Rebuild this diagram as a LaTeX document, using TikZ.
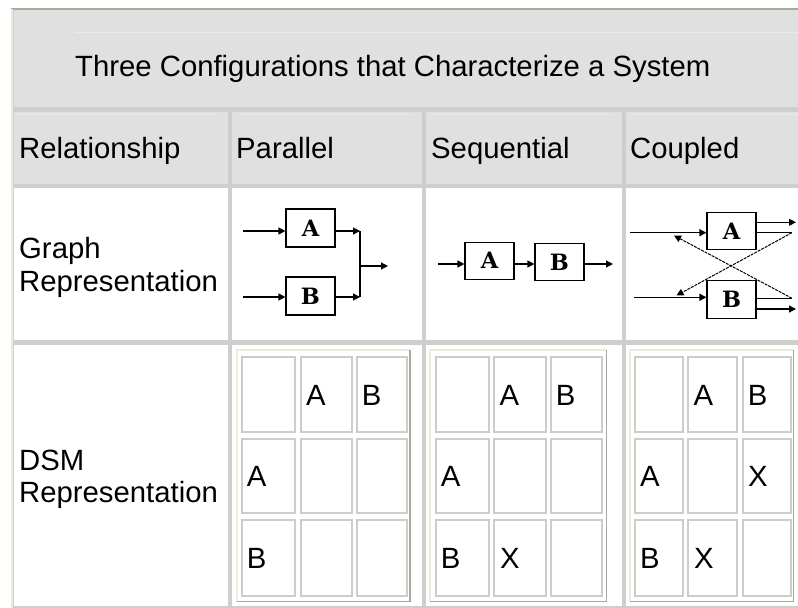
\documentclass[tikz,border=0pt]{standalone}
\usepackage{fontspec}
\newfontfamily\arial{Liberation Sans}
\newfontfamily\gfont{DejaVu Serif}
\usetikzlibrary{arrows.meta}
\definecolor{gapgray}{RGB}{206,206,206}
\definecolor{hdrgray}{RGB}{224,224,224}
\definecolor{hdrline}{RGB}{234,234,234}
\definecolor{cream}{RGB}{238,235,220}
\definecolor{khaki}{RGB}{172,168,153}
\definecolor{cellgray}{RGB}{204,204,204}
\begin{document}
\begin{tikzpicture}[x=1bp,y=-1bp,
  txt/.style={anchor=base west, inner sep=0pt, font=\arial\fontsize{29.3bp}{34bp}\selectfont},
  gbox/.style={draw=black, line width=1.2bp, fill=white, minimum width=49bp, inner sep=0pt, font=\gfont\bfseries\fontsize{22.5bp}{22.5bp}\selectfont},
  gl/.style={line width=1.2bp, black},
  arr/.style={gl, -{Triangle[length=7bp,width=7bp]}},
  diag/.style={black, line width=1bp, dash pattern=on 3bp off 1bp, -{Triangle[length=7bp,width=7bp]}},
  cell/.style={draw=cellgray, line width=1.7bp, fill=white},
  hcell/.style={fill=hdrgray},
  bcell/.style={fill=white},
  lite/.style={cream, line width=1.3bp},
  dark/.style={khaki, line width=1.3bp},
]
\useasboundingbox (0,0) rectangle (798,608);
\fill[white] (0,0) rectangle (798,608);
\fill[gapgray] (12,9.5) rectangle (798,608);
\draw[dark] (11,9) -- (798,9);
\draw[lite] (12,9) -- (12,608);

% header cells
\fill[hcell] (14,10.5) rectangle (798,107);
\fill[hcell] (14,112) rectangle (228,184);
\fill[hcell] (232,112) rectangle (421.5,184);
\fill[hcell] (426,112) rectangle (621.7,184);
\fill[hcell] (626,112) rectangle (798,184);
\draw[hdrline, line width=1bp] (75,33) -- (798,33);
\draw[hdrline, line width=1bp] (15,115) -- (217,115);
\draw[hdrline, line width=1bp] (237,115) -- (412,115);
\draw[hdrline, line width=1bp] (430,115) -- (612,115);
\draw[hdrline, line width=1bp] (630,115) -- (798,115);

% body cells
\foreach \xa/\xb in {14/228, 232/421.5, 426/621.7, 626/798}{
  \fill[bcell] (\xa,188) rectangle (\xb,340);
  \fill[bcell] (\xa,345) rectangle (\xb,606);
}

% texts
\node[txt] (title) at (75,77) {Three Configurations that Characterize a System};
\node[txt] (rel) at (19,159) {Relationship};
\node[txt] (par) at (236,159) {Parallel};
\node[txt] (seq) at (431,159) {Sequential};
\node[txt] (cou) at (630,159) {Coupled};
\node[txt] (gr1) at (19,258) {Graph};
\node[txt] (gr2) at (19,291) {Representation};
\node[txt] (dsm1) at (19,470) {DSM};
\node[txt] (dsm2) at (19,502) {Representation};

% ---- Parallel graph
\node[gbox, minimum height=38bp] (pA) at (310.5,228) {A};
\node[gbox, minimum height=38bp] (pB) at (310.5,296) {B};
\coordinate (pAin) at (243,231);
\coordinate (pBin) at (243,297);
\coordinate (pJa) at (360,231);
\coordinate (pJb) at (360,297);
\coordinate (pJm) at (360,266);
\coordinate (pOut) at (388,266);
\draw[arr] (pAin) -- (pAin -| pA.west);
\draw[arr] (pBin) -- (pBin -| pB.west);
\draw[arr] (pA.east |- pJa) -- (pJa);
\draw[arr] (pB.east |- pJb) -- (pJb);
\draw[gl] (pJa) -- (pJb);
\draw[arr] (pJm) -- (pOut);

% ---- Sequential graph
\node[gbox, minimum height=37bp] (sA) at (489.5,260.7) {A};
\node[gbox, minimum height=37bp] (sB) at (559.5,262.3) {B};
\coordinate (sIn) at (438,264);
\coordinate (sOut) at (613,264);
\draw[arr] (sIn) -- (sIn -| sA.west);
\draw[arr] (sA.east |- sIn) -- (sIn -| sB.west);
\draw[arr] (sB.east |- sOut) -- (sOut);

% ---- Coupled graph
\node[gbox, minimum height=36.6bp] (cA) at (731.5,231) {A};
\node[gbox, minimum height=37.6bp] (cB) at (731.5,299.5) {B};
\coordinate (cAin) at (630,232.7);
\coordinate (cBin) at (634,297.3);
\coordinate (cAo1) at (796,222.3);
\coordinate (cAo2) at (792,232.7);
\coordinate (cBo1) at (792,298.3);
\coordinate (cBo2) at (796,309);
\coordinate (cAfb) at (674,235.5);
\coordinate (cBfb) at (676.5,295.5);
\draw[arr] (cAin) -- (cAin -| cA.west);
\draw[arr] (cBin) -- (cBin -| cB.west);
\draw[arr] (cA.east |- cAo1) -- (cAo1);
\draw[gl] (cA.east |- cAo2) -- (cAo2);
\draw[diag] (cAo2) -- (cBfb);
\draw[gl] (cB.east |- cBo1) -- (cBo1);
\draw[diag] (cBo1) -- (cAfb);
\draw[arr] (cB.east |- cBo2) -- (cBo2);

% ---- DSM tables
% parallel
\draw[lite] (237,601.7) -- (237,350) -- (410,350);
\draw[dark] (410,350) -- (410,601.7) -- (237,601.7);
\foreach \xa/\xb in {241.7/295, 301/351.7, 356.7/406.7}
  \foreach \ya/\yb in {356.7/431.7, 439/513.3, 520/596}
    \draw[cell] (\xa,\ya) rectangle (\xb,\yb);
\node[txt] (p12) at (306,405) {A};
\node[txt] (p13) at (361.7,405) {B};
\node[txt] (p21) at (246.7,486.7) {A};
\node[txt] (p31) at (246.7,568) {B};

% sequential
\draw[lite] (430,601.7) -- (430,350) -- (606.7,350);
\draw[dark] (606.7,350) -- (606.7,601.7) -- (430,601.7);
\foreach \xa/\xb in {435.7/489, 494.3/545.7, 550.7/602.3}
  \foreach \ya/\yb in {356.7/431.7, 439/513.3, 520/596}
    \draw[cell] (\xa,\ya) rectangle (\xb,\yb);
\node[txt] (s12) at (499.3,405) {A};
\node[txt] (s13) at (555.7,405) {B};
\node[txt] (s21) at (440.7,486.7) {A};
\node[txt] (s31) at (440.7,568) {B};
\node[txt] (s32) at (499.8,568) {X};

% coupled
\draw[lite] (630,601.7) -- (630,350) -- (793.3,350);
\draw[dark] (793.3,350) -- (793.3,601.7) -- (630,601.7);
\foreach \xa/\xb in {635/683.3, 688.3/736.7, 742.7/790.7}
  \foreach \ya/\yb in {356.7/431.7, 439/513.3, 520/596}
    \draw[cell] (\xa,\ya) rectangle (\xb,\yb);
\node[txt] (c12) at (693.3,405) {A};
\node[txt] (c13) at (747.7,405) {B};
\node[txt] (c21) at (640,486.7) {A};
\node[txt] (c23) at (748,486.7) {X};
\node[txt] (c31) at (640,568) {B};
\node[txt] (c32) at (694,568) {X};
\end{tikzpicture}
\end{document}
